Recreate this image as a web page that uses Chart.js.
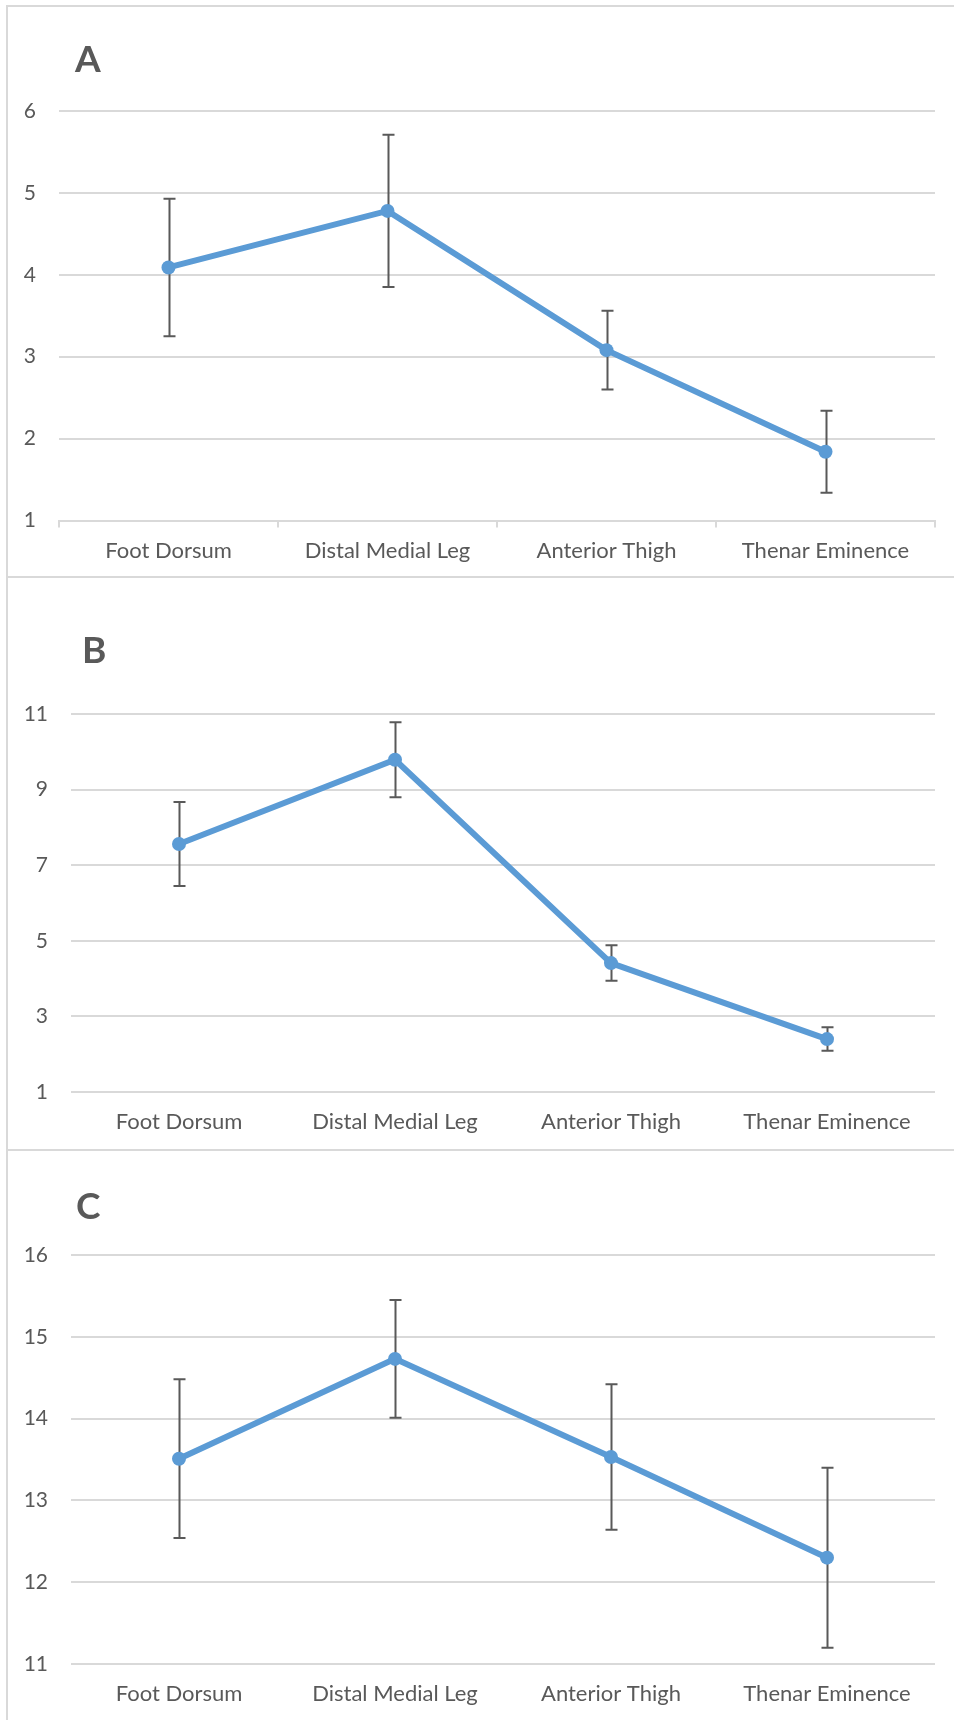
<!DOCTYPE html>
<html>
<head>
<meta charset="utf-8">
<title>Sites</title>
<script src="https://cdn.jsdelivr.net/npm/chart.js@4.4.1/dist/chart.umd.min.js"></script>
<style>
  body { margin: 0; width: 954px; height: 1720px; overflow: hidden; background: #fff; font-family: Lato, sans-serif; }
  .panel { position: absolute; left: 6px; width: 960px; border: 2px solid #d9d9d9; border-right: none; }
  .box { position: relative; width: 946px; }
  .letter { position: absolute; font-weight: bold; color: #595959; font-size: 37px; line-height: 1; }
</style>
</head>
<body>
<div class="panel" style="top:5px;">
  <div class="box" style="height:569px;">
    <div class="letter" style="left:67px; top:32px;">A</div>
    <canvas id="chartA"></canvas>
  </div>
</div>
<div class="panel" style="top:578px; border-top:none;">
  <div class="box" style="height:571px;">
    <div class="letter" style="left:74px; top:52px;">B</div>
    <canvas id="chartB"></canvas>
  </div>
</div>
<div class="panel" style="top:1151px; border-top:none; border-bottom:none;">
  <div class="box" style="height:569px;">
    <div class="letter" style="left:68px; top:35px;">C</div>
    <canvas id="chartC"></canvas>
  </div>
</div>
<script>
//data
const sites = ['Foot Dorsum', 'Distal Medial Leg', 'Anterior Thigh', 'Thenar Eminence'];

const meanA = [4.09, 4.78, 3.08, 1.84];
const errA = [0.84, 0.93, 0.48, 0.5];
const ticksA = [1, 2, 3, 4, 5, 6];

const meanB = [7.56, 9.79, 4.41, 2.4];
const errB = [1.11, 0.99, 0.47, 0.31];
const ticksB = [1, 3, 5, 7, 9, 11];

const meanC = [13.51, 14.73, 13.53, 12.3];
const errC = [0.97, 0.72, 0.89, 1.1];
const ticksC = [11, 12, 13, 14, 15, 16];

const grey = '#595959';
const gridGrey = '#d9d9d9';
const blue = '#5b9bd5';

// whiskers drawn under the line
const errorBars = {
  id: 'errorBars',
  beforeDatasetsDraw(chart, args, opts) {
    const { ctx, scales: { x, y } } = chart;
    const means = chart.data.datasets[0].data;
    ctx.save();
    ctx.strokeStyle = grey;
    ctx.lineWidth = 2;
    means.forEach((m, i) => {
      const px = Math.round(x.getPixelForValue(i)) + 0.5;
      const top = y.getPixelForValue(m + opts.errors[i]);
      const bot = y.getPixelForValue(m - opts.errors[i]);
      ctx.beginPath();
      ctx.moveTo(px, top);
      ctx.lineTo(px, bot);
      ctx.moveTo(px - 6, top);
      ctx.lineTo(px + 6, top);
      ctx.moveTo(px - 6, bot);
      ctx.lineTo(px + 6, bot);
      ctx.stroke();
    });
    ctx.restore();
  }
};

function makeChart(id, means, errs, ticks, box) {
  const ctx = document.getElementById(id);
  return new Chart(ctx, {
    type: 'line',
    data: {
      labels: sites,
      datasets: [{
        data: means,
        borderColor: blue,
        backgroundColor: blue,
        borderWidth: 6,
        tension: 0,
        pointRadius: 7,
        pointBorderWidth: 0,
        pointBackgroundColor: blue
      }]
    },
    options: {
      responsive: true,
      maintainAspectRatio: false,
      animation: false,
      layout: {
        padding: { top: box.top, right: box.right, left: 0, bottom: 0 }
      },
      plugins: {
        legend: { display: false },
        tooltip: { enabled: false },
        errorBars: { errors: errs }
      },
      scales: {
        x: {
          offset: true,
          grid: {
            display: box.tickMarks,
            offset: true,
            drawOnChartArea: false,
            drawTicks: box.tickMarks,
            tickLength: 7,
            color: gridGrey,
            lineWidth: 2
          },
          border: { display: box.tickMarks, color: gridGrey, width: 2 },
          ticks: {
            color: grey,
            font: { family: 'Lato', size: 22 },
            padding: box.tickMarks ? 10 : 17,
            maxRotation: 0
          },
          afterFit: (scale) => { scale.height = box.height - box.bottom; }
        },
        y: {
          min: ticks[0],
          max: ticks[ticks.length - 1],
          afterBuildTicks: (scale) => { scale.ticks = ticks.map(v => ({ value: v })); },
          grid: { color: gridGrey, lineWidth: 2, drawTicks: false },
          border: { display: false },
          ticks: {
            color: grey,
            font: { family: 'Lato', size: 21 },
            padding: 23
          },
          afterFit: (scale) => { scale.width = box.left; }
        }
      }
    },
    plugins: [errorBars]
  });
}

makeChart('chartA', meanA, errA, ticksA, { left: 51, right: 19, top: 104, bottom: 513.5, height: 569, tickMarks: true });
makeChart('chartB', meanB, errB, ticksB, { left: 63, right: 19, top: 136, bottom: 514, height: 571, tickMarks: false });
makeChart('chartC', meanC, errC, ticksC, { left: 63, right: 19, top: 104, bottom: 513, height: 569, tickMarks: false });
</script>
</body>
</html>
